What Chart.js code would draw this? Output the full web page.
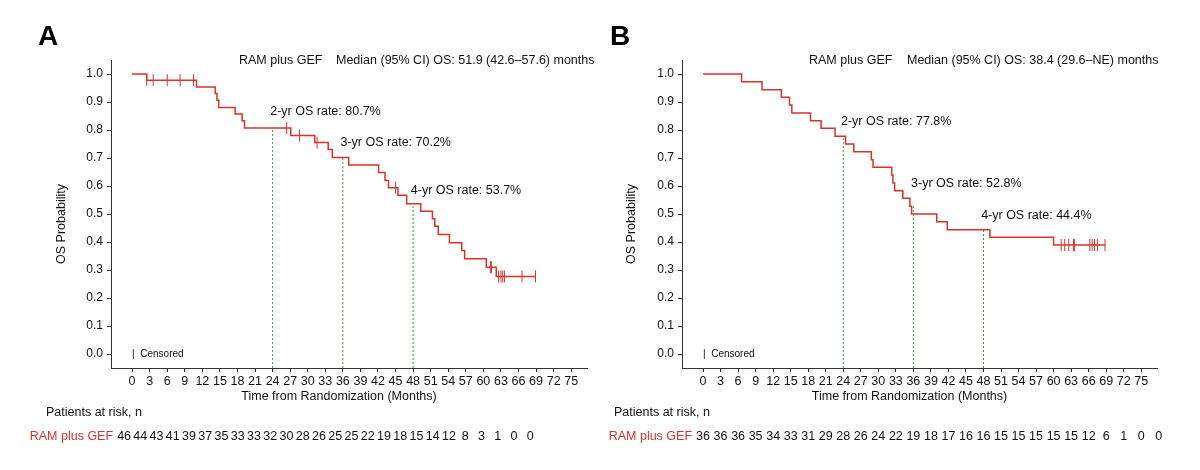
<!DOCTYPE html>
<html><head><meta charset="utf-8">
<script src="https://cdn.jsdelivr.net/npm/chart.js@4/dist/chart.umd.min.js"></script>
<style>
body{margin:0;background:#fff;width:1200px;height:470px;overflow:hidden;font-family:"Liberation Sans",Arial,sans-serif}
.p{position:absolute;top:0;width:600px;height:470px}
.lt{position:absolute;font-weight:bold;font-size:28px;top:20px}
</style></head><body>
<div class="p" style="left:0"><canvas id="ca"></canvas></div>
<div class="p" style="left:600px"><canvas id="cb"></canvas></div>
<div class="lt" style="left:38px">A</div>
<div class="lt" style="left:610px">B</div>
<script>
// Panel A
var stepsA = [[0,1],[2.5,0.978],[11.0,0.954],[14.2,0.93],[14.5,0.906],[14.8,0.88],[17.6,0.857],[18.8,0.833],[19.2,0.807],
  [27.1,0.78],[31.2,0.755],[33.5,0.73],[34.2,0.702],[37.0,0.675],[42.1,0.648],[43.2,0.62],[43.8,0.594],[45.4,0.567],
  [46.9,0.537],[49.3,0.51],[51.3,0.483],[51.7,0.456],[52.3,0.427],[54.2,0.397],[56.3,0.37],[56.8,0.34],[60.5,0.31],
  [62.2,0.277],[68.9,0.277]];
var censorA = [[2.5,0.978],[3.6,0.978],[6.0,0.978],[8.2,0.978],[10.5,0.978],[26.4,0.807],[28.6,0.78],[31.6,0.755],
  [45.0,0.594],[61.2,0.31],[61.4,0.31],[62.6,0.277],[63.0,0.277],[63.3,0.277],[63.6,0.277],[66.6,0.277],[68.9,0.277]];
var ratesA = [0.807, 0.702, 0.537];
var rateLabelsA = ['2-yr OS rate: 80.7%', '3-yr OS rate: 70.2%', '4-yr OS rate: 53.7%'];
var riskA = [46,44,43,41,39,37,35,33,33,32,30,28,26,25,25,22,19,18,15,14,12,8,3,1,0,0];
var medianA = 'Median (95% CI) OS: 51.9 (42.6\u201357.6) months';

// Panel B
var stepsB = [[0,1],[6.6,0.972],[10.1,0.944],[13.4,0.917],[14.8,0.889],[15.2,0.861],[18.4,0.833],[20.2,0.806],
  [22.6,0.778],[24.4,0.75],[25.8,0.722],[28.8,0.694],[29.1,0.667],[32.3,0.639],[32.5,0.611],[32.8,0.583],
  [34.2,0.556],[35.4,0.528],[35.7,0.5],[40.0,0.472],[41.8,0.444],[49.1,0.417],[60.0,0.389],[68.8,0.389]];
var censorB = [[61.3,0.389],[61.9,0.389],[62.6,0.389],[63.4,0.389],[63.6,0.389],[66.2,0.389],[66.6,0.389],
  [67.0,0.389],[67.5,0.389],[68.8,0.389]];
var ratesB = [0.778, 0.528, 0.444];
var rateLabelsB = ['2-yr OS rate: 77.8%', '3-yr OS rate: 52.8%', '4-yr OS rate: 44.4%'];
var riskB = [36,36,36,35,34,33,31,29,28,26,24,22,19,18,17,16,16,15,15,15,15,15,12,6,1,0,0];
var medianB = 'Median (95% CI) OS: 38.4 (29.6\u2013NE) months';

var years = [24, 36, 48];
var RED = '#d8322c', GREEN = '#3d9a4a', FONT = '"Liberation Sans", Arial, sans-serif';

function makePanel(id, steps, censor, rates, labels, risk, median, o) {
  var datasets = [{
    data: steps.map(function(p) { return {x: p[0], y: p[1]}; }),
    stepped: 'before', borderColor: RED, borderWidth: 1.5, pointRadius: 0
  }, {
    type: 'scatter',
    data: censor.map(function(p) { return {x: p[0], y: p[1]}; }),
    pointStyle: 'line', rotation: 90, pointRadius: 6, borderColor: RED, borderWidth: 1
  }];
  years.forEach(function(yr, i) {
    datasets.push({data: [{x: yr, y: -0.05}, {x: yr, y: rates[i]}], borderColor: GREEN, borderWidth: 1,
      borderDash: [2, 2], pointRadius: 0});
  });
  var ticksY = [], ticksX = [];
  for (var i = 0; i <= 10; i++) ticksY.push({value: i / 10});
  for (var j = 0; j <= 75; j += 3) ticksX.push({value: j});

  var textPlugin = {
    id: 'txt',
    afterDraw: function(c) {
      var ctx = c.ctx, xs = c.scales.x, ys = c.scales.y, a = c.chartArea;
      ctx.save();
      ctx.fillStyle = '#111'; ctx.textBaseline = 'middle';
      ctx.font = '12.5px ' + FONT;
      ctx.textAlign = 'left';
      ctx.fillText('RAM plus GEF', o.hdr1, 61);
      ctx.fillText(median, o.hdr2, 61);
      labels.forEach(function(t, i) {
        ctx.fillText(t, xs.getPixelForValue(years[i] - 0.4), ys.getPixelForValue(o.labY[i]));
      });
      ctx.font = '10px ' + FONT;
      ctx.fillText('|  Censored', xs.getPixelForValue(0), ys.getPixelForValue(0));
      ctx.font = '12.5px ' + FONT;
      ctx.textAlign = 'center';
      ctx.fillText('Time from Randomization (Months)', (a.left + a.right) / 2 - 10, 397);
      ctx.save();
      ctx.translate(o.ylab, (a.top + a.bottom) / 2 + 10); ctx.rotate(-Math.PI / 2);
      ctx.fillText('OS Probability', 0, 0);
      ctx.restore();
      ctx.textAlign = 'left';
      ctx.fillText('Patients at risk, n', o.par, 413);
      var x0 = xs.getPixelForValue(0) + o.riskShift;
      var dx = (xs.getPixelForValue(3) - xs.getPixelForValue(0)) * o.riskScale;
      ctx.textAlign = 'right'; ctx.fillStyle = RED;
      ctx.fillText('RAM plus GEF', x0 - 11, 437);
      ctx.textAlign = 'center'; ctx.fillStyle = '#111';
      risk.forEach(function(n, i) { ctx.fillText(String(n), x0 + i * dx, 437); });
      ctx.restore();
    }
  };

  return new Chart(document.getElementById(id), {
    type: 'line',
    data: {datasets: datasets},
    options: {
      responsive: false, animation: false, devicePixelRatio: 1,
      layout: {padding: {left: 0, top: 60, right: 600 - o.right, bottom: 0}},
      plugins: {legend: {display: false}, tooltip: {enabled: false}},
      scales: {
        x: {type: 'linear', min: -3.6, max: 77.7,
          afterBuildTicks: function(s) { s.ticks = ticksX; },
          afterFit: function(s) { s.height = 102; },
          grid: {drawOnChartArea: false, tickLength: 4, color: '#333'},
          border: {color: '#333'},
          ticks: {color: '#111', font: {size: 12.5, family: FONT}, padding: 2, maxRotation: 0, autoSkip: false}},
        y: {min: -0.05, max: 1.05,
          afterBuildTicks: function(s) { s.ticks = ticksY; },
          afterFit: function(s) { s.width = o.left; },
          grid: {drawOnChartArea: false, tickLength: 4, color: '#333'},
          border: {color: '#333'},
          ticks: {color: '#111', font: {size: 12, family: FONT}, padding: 4,
            callback: function(v) { return v.toFixed(1); }}}
      }
    },
    plugins: [textPlugin]
  });
}

document.getElementById('ca').width = 600; document.getElementById('ca').height = 470;
document.getElementById('cb').width = 600; document.getElementById('cb').height = 470;
makePanel('ca', stepsA, censorA, ratesA, rateLabelsA, riskA, medianA,
  {left: 111, right: 587, hdr1: 239, hdr2: 336, labY: [0.865, 0.755, 0.583], ylab: 62, par: 46, riskShift: -8, riskScale: 0.925});
makePanel('cb', stepsB, censorB, ratesB, rateLabelsB, riskB, medianB,
  {left: 82, right: 557, hdr1: 209, hdr2: 307, labY: [0.829, 0.608, 0.496], ylab: 32, par: 14, riskShift: 0, riskScale: 1});
</script>
</body></html>
